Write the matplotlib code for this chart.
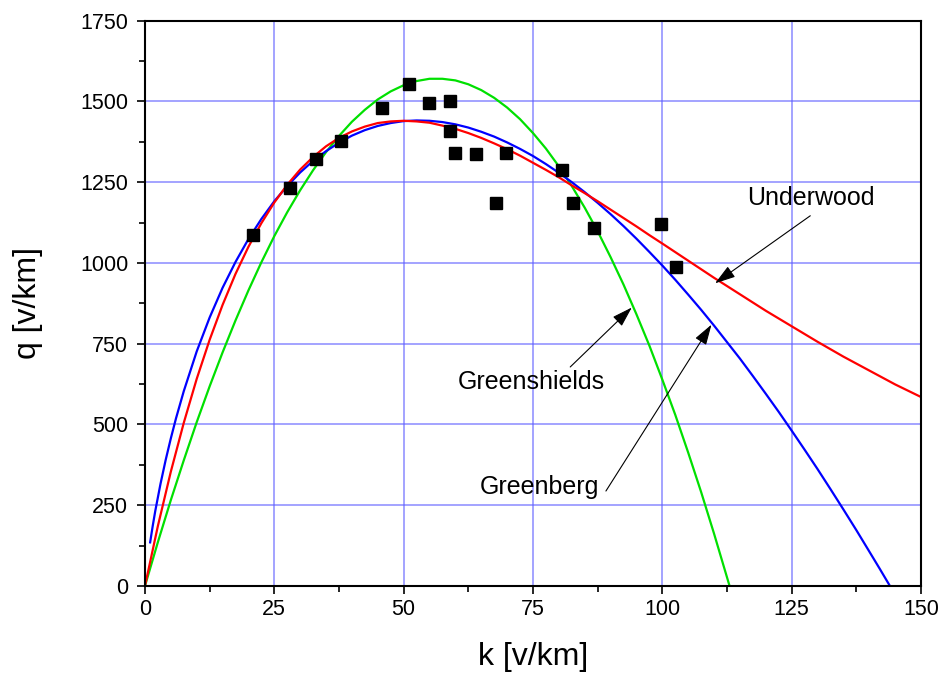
import matplotlib.pyplot as plt
from matplotlib.ticker import MultipleLocator

plt.rcParams['font.family'] = ['Liberation Sans', 'DejaVu Sans']

# measured points
k_obs = [20.9, 28.0, 33.0, 37.9, 45.9, 51.0, 54.9, 58.9, 58.9, 59.9, 63.9, 67.9, 69.8,
         80.7, 82.8, 86.8, 99.8, 102.7]
q_obs = [1088, 1231, 1322, 1378, 1479, 1555, 1496, 1502, 1408, 1339, 1336, 1185, 1340,
         1288, 1185, 1109, 1119, 988]

# Greenshields curve
k_gs = [0, 2.5, 5, 7.5, 10, 12.5, 15, 17.5, 20, 22.5, 25, 27.5, 30, 32.5, 35, 37.5, 40,
        42.5, 45, 47.5, 50, 52.5, 55, 57.5, 60, 62.5, 65, 67.5, 70, 72.5, 75, 77.5, 80,
        82.5, 85, 87.5, 90, 92.5, 95, 97.5, 100, 102.5, 105, 107.5, 110, 113]
q_gs = [0, 136, 266, 389, 507, 618, 723, 822, 915, 1002, 1083, 1157, 1225, 1287, 1343,
        1393, 1437, 1474, 1506, 1531, 1550, 1563, 1570, 1570, 1565, 1553, 1535, 1511,
        1481, 1445, 1402, 1354, 1299, 1238, 1171, 1098, 1018, 933, 841, 744, 639, 530,
        413, 291, 162, 0]

# Greenberg curve
k_gb = [1, 1.5, 2, 3, 4, 5, 6, 7.5, 10, 12.5, 15, 17.5, 20, 22.5, 25, 27.5, 30, 32.5,
        35, 37.5, 40, 42.5, 45, 47.5, 50, 52.5, 55, 57.5, 60, 62.5, 65, 67.5, 70, 72.5,
        75, 77.5, 80, 82.5, 85, 87.5, 90, 92.5, 95, 97.5, 100, 102.5, 105, 107.5, 110,
        112.5, 115, 117.5, 120, 122.5, 125, 127.5, 130, 132.5, 135, 137.5, 140, 142, 144]
q_gb = [135, 186, 233, 316, 390, 457, 519, 603, 726, 831, 923, 1003, 1074, 1136, 1191,
        1238, 1280, 1316, 1346, 1372, 1394, 1411, 1424, 1433, 1439, 1441, 1440, 1436,
        1429, 1419, 1406, 1391, 1373, 1353, 1331, 1306, 1279, 1250, 1219, 1186, 1151,
        1114, 1075, 1034, 992, 948, 902, 855, 806, 755, 704, 650, 595, 539, 481, 422,
        362, 300, 237, 173, 107, 54, 0]

# Underwood curve
k_uw = [0, 2.5, 5, 7.5, 10, 12.5, 15, 17.5, 20, 22.5, 25, 27.5, 30, 32.5, 35, 37.5, 40,
        42.5, 45, 47.5, 50, 52.5, 55, 57.5, 60, 62.5, 65, 67.5, 70, 72.5, 75, 77.5, 80,
        82.5, 85, 87.5, 90, 92.5, 95, 97.5, 100, 105, 110, 115, 120, 125, 130, 135, 140,
        145, 150]
q_uw = [0, 186, 354, 505, 641, 762, 870, 966, 1050, 1123, 1187, 1242, 1289, 1328, 1361,
        1387, 1407, 1422, 1433, 1438, 1440, 1438, 1434, 1425, 1415, 1402, 1387, 1370,
        1352, 1332, 1310, 1288, 1265, 1240, 1216, 1191, 1165, 1139, 1113, 1086, 1060,
        1007, 954, 903, 852, 804, 756, 710, 667, 624, 585]

fig = plt.figure(figsize=(9.45, 6.83), dpi=100)
ax = fig.add_axes([0.1534, 0.142, 0.8212, 0.8278])

ax.grid(True, which='major', color='#5a5aff', alpha=0.7, lw=1.1)
ax.plot(k_gs, q_gs, color='#00e000', lw=1.6)
ax.plot(k_gb, q_gb, color='#0000ff', lw=1.6)
ax.plot(k_uw, q_uw, color='#ff0000', lw=1.6)
ax.plot(k_obs, q_obs, 's', color='black', ms=8, zorder=5)

arrow = dict(arrowstyle='-|>,head_length=0.7,head_width=0.22', color='black', lw=0.8,
             mutation_scale=18, shrinkA=0, shrinkB=0)
# labels + arrows
ax.text(116.3, 1200, 'Underwood', fontsize=18, va='center', ha='left')
ax.annotate('', xy=(110.2, 937), xytext=(128.6, 1146), arrowprops=arrow)
ax.text(60.5, 631, 'Greenshields', fontsize=18, va='center', ha='left')
ax.annotate('', xy=(94.1, 862), xytext=(82.2, 678), arrowprops=arrow)
ax.text(64.8, 307, 'Greenberg', fontsize=18, va='center', ha='left')
ax.annotate('', xy=(109.5, 809), xytext=(89.1, 294), arrowprops=arrow)

ax.set_xlim(0, 150)
ax.set_ylim(0, 1750)
ax.xaxis.set_major_locator(MultipleLocator(25))
ax.xaxis.set_minor_locator(MultipleLocator(12.5))
ax.yaxis.set_major_locator(MultipleLocator(250))
ax.yaxis.set_minor_locator(MultipleLocator(125))
ax.tick_params(which='major', direction='out', length=6, width=1.2, labelsize=15.5)
ax.tick_params(axis='y', pad=6)
ax.tick_params(which='minor', direction='out', length=4, width=1.2)
for s in ax.spines.values():
    s.set_linewidth(1.5)
ax.set_xlabel('k [v/km]', fontsize=23, labelpad=16)
ax.set_ylabel('q [v/km]', fontsize=23, labelpad=27)

plt.savefig('out.png', dpi=100)
